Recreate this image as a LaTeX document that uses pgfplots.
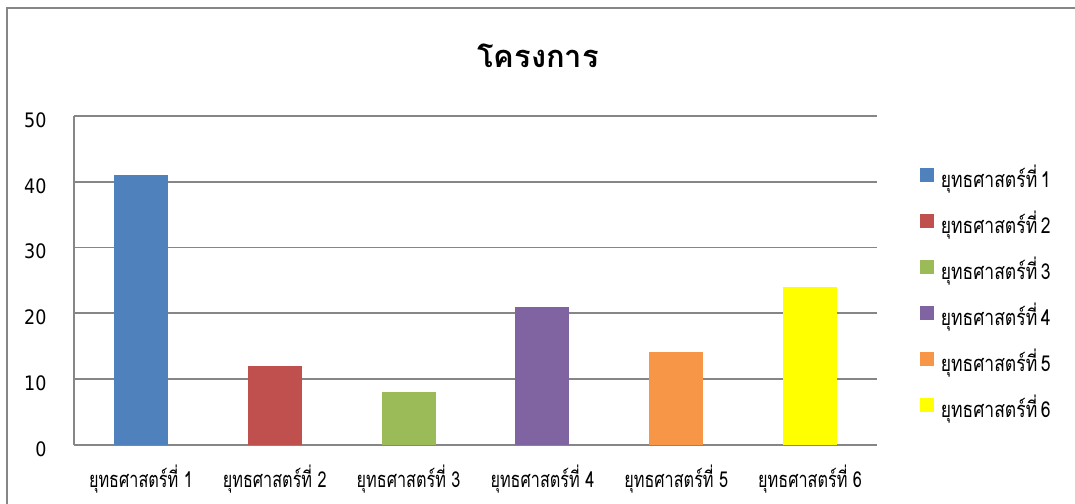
\documentclass[border=0pt]{standalone}
\usepackage{fontspec}
\setmainfont[Script=Thai]{Loma}
\newfontfamily\thaicond[Script=Thai,FakeStretch=0.74]{Loma}
\newfontfamily\thaileg[Script=Thai,FakeStretch=0.8]{Loma}
\newfontfamily\numfont[FakeStretch=0.88]{DejaVu Sans}
\usepackage{pgfplots}
\pgfplotsset{compat=1.18}
\definecolor{c1}{HTML}{4F81BD}
\definecolor{c2}{HTML}{C0504D}
\definecolor{c3}{HTML}{9BBB59}
\definecolor{c4}{HTML}{8064A2}
\definecolor{c5}{HTML}{F79646}
\definecolor{c6}{HTML}{FFFF00}
\definecolor{gridgray}{RGB}{134,134,134}
\begin{document}
\begin{tikzpicture}[x=1bp,y=1bp]
\useasboundingbox (0,0) rectangle (1075,504);
\draw[gridgray, line width=1.8bp] (7,-10) -- (7,496) -- (1085,496);
\node[font=\fontsize{31}{36}\selectfont\bfseries] at (538,448) {โครงการ};
\begin{axis}[
  at={(74bp,59bp)}, anchor=south west,
  scale only axis, width=803bp, height=329bp,
  xmin=-0.5, xmax=5.5, ymin=0, ymax=50,
  ytick={0,10,20,30,40,50},
  xtick={0,1,2,3,4,5},
  xticklabels={ยุทธศาสตร์ที่ 1,ยุทธศาสตร์ที่ 2,ยุทธศาสตร์ที่ 3,ยุทธศาสตร์ที่ 4,ยุทธศาสตร์ที่ 5,ยุทธศาสตร์ที่ 6},
  xticklabel style={font=\thaicond\fontsize{22}{26}\selectfont, yshift=-16bp},
  yticklabel style={font=\numfont\fontsize{20}{24}\selectfont, xshift=-24bp, yshift=-4bp},
  /pgf/number format/assume math mode=true,
  major tick length=0pt,
  axis x line*=bottom, axis y line*=left,
  axis line style={gridgray, line width=1.8bp, -},
  ymajorgrids, grid style={gridgray, line width=1.8bp},
  ybar, bar width=54bp,
  legend style={at={(1.053,0.855)}, anchor=north west, draw=none, fill=none,
    font=\thaileg\fontsize{22}{26}\selectfont, row sep=20bp, inner sep=0pt,
    nodes={inner sep=1bp}},
  legend cell align=left,
  legend image code/.code={\fill[#1] (0bp,-5bp) rectangle (14bp,9bp);},
]
\addplot[fill=c1, draw=none, bar shift=0pt] coordinates {(0,41)};
\addplot[fill=c2, draw=none, bar shift=0pt] coordinates {(1,12)};
\addplot[fill=c3, draw=none, bar shift=0pt] coordinates {(2,8)};
\addplot[fill=c4, draw=none, bar shift=0pt] coordinates {(3,21)};
\addplot[fill=c5, draw=none, bar shift=0pt] coordinates {(4,14.2)};
\addplot[fill=c6, draw=none, bar shift=0pt] coordinates {(5,24)};
\legend{\hspace{6bp}ยุทธศาสตร์ที่\,1,\hspace{6bp}ยุทธศาสตร์ที่\,2,\hspace{6bp}ยุทธศาสตร์ที่\,3,\hspace{6bp}ยุทธศาสตร์ที่\,4,\hspace{6bp}ยุทธศาสตร์ที่\,5,\hspace{6bp}ยุทธศาสตร์ที่\,6}
\end{axis}
\end{tikzpicture}
\end{document}
